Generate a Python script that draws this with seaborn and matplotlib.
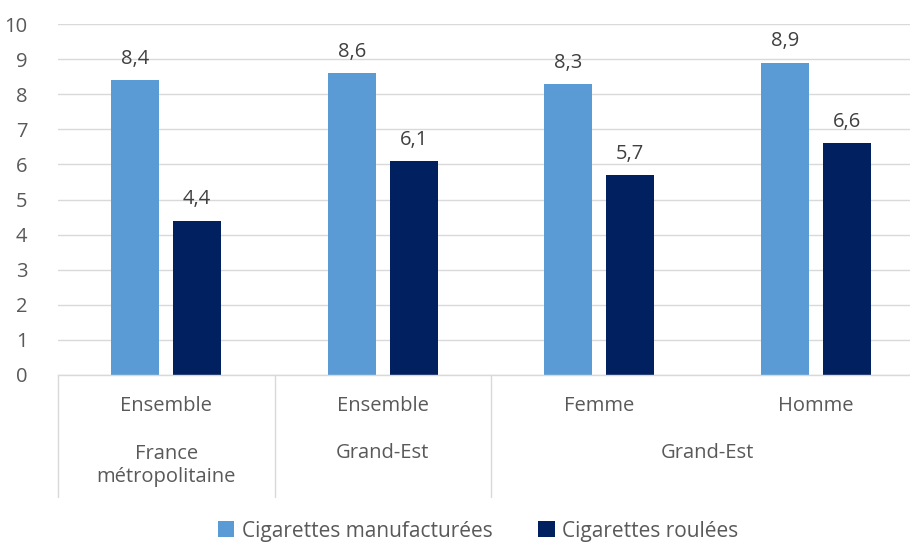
import matplotlib
matplotlib.use("Agg")
import matplotlib.pyplot as plt
import seaborn as sns
import pandas as pd

# Data
sub_labels = ["Ensemble", "Ensemble", "Femme", "Homme"]
zones = ["France\nmétropolitaine", "Grand-Est", "Grand-Est"]
zone_spans = [(0, 0), (1, 1), (2, 3)]
series = ["Cigarettes manufacturées", "Cigarettes roulées"]
manufacturees = [8.4, 8.6, 8.3, 8.9]
roulees = [4.4, 6.1, 5.7, 6.6]
colors = ["#5B9BD5", "#002060"]

keys = [f"c{i}" for i in range(len(sub_labels))]
df = pd.DataFrame({
    "cat": keys * 2,
    "serie": [series[0]] * 4 + [series[1]] * 4,
    "val": manufacturees + roulees,
})

sns.set_theme(style="white")
plt.rcParams["font.family"] = ["Open Sans", "DejaVu Sans"]

FS = 14.5
W, H = 910, 542
fig = plt.figure(figsize=(W / 100, H / 100), dpi=100)
ax = fig.add_axes([58 / W, 1 - 375 / H, (924 - 58) / W, (375 - 24) / H])

sns.barplot(data=df, x="cat", y="val", hue="serie", order=keys, hue_order=series,
            palette=colors, width=0.572, gap=0.226, ax=ax, legend=True,
            saturation=1, edgecolor="none")

ax.set_ylim(0, 10)
ax.set_xlim(-0.5, 3.5)
ax.set_yticks(range(0, 11))
ax.tick_params(axis="y", labelsize=FS, colors="#595959", length=0, pad=22)
ax.set_yticklabels([str(i) for i in range(11)], ha="right")
ax.set_xticks([])
ax.set_xlabel("")
ax.set_ylabel("")
ax.yaxis.grid(True, color="#D9D9D9", linewidth=1)
ax.set_axisbelow(True)
for s in ["top", "right", "left"]:
    ax.spines[s].set_visible(False)
ax.spines["bottom"].set_color("#D9D9D9")
ax.spines["bottom"].set_linewidth(1)

# value labels
for cont in ax.containers:
    ax.bar_label(cont, labels=[f"{v:.1f}".replace(".", ",") for v in cont.datavalues],
                 padding=8, fontsize=FS, color="#404040")

# multi-level category axis
trans = ax.get_xaxis_transform()

def ypos(px):
    return (375 - px) / (375 - 24)

for i, lab in enumerate(sub_labels):
    ax.text(i, ypos(406), lab, transform=trans, ha="center", va="center",
            fontsize=FS, color="#595959", clip_on=False)
for (a, b), z in zip(zone_spans, zones):
    n = z.count("\n")
    ax.text((a + b) / 2, ypos(453 + n * 12.5), z, transform=trans, ha="center",
            va="center", fontsize=FS, color="#595959", clip_on=False,
            linespacing=1.25)
for xb in [-0.5, 0.5, 1.5]:
    ax.plot([xb, xb], [0, ypos(497)], transform=trans, color="#D9D9D9",
            linewidth=1, clip_on=False)

ax.legend(loc="center", bbox_to_anchor=(478 / W, 1 - 531 / H),
          bbox_transform=fig.transFigure, ncol=2, frameon=False,
          fontsize=15, handlelength=0.8, handleheight=0.8,
          handletextpad=0.35, columnspacing=2.2, labelcolor="#595959")

fig.savefig("out.png", dpi=100)
